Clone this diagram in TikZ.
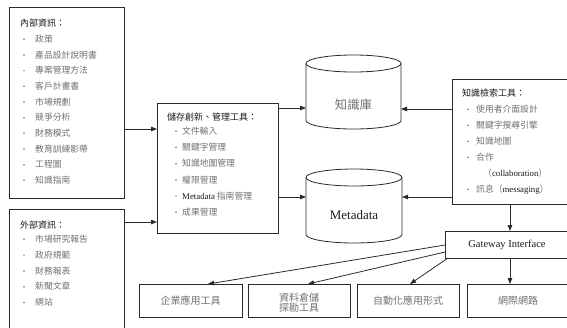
\documentclass[tikz,border=0pt]{standalone}
\usepackage{fontspec}
\setmainfont{Noto Sans CJK TC}
\newfontfamily\lat{Liberation Serif}
\usetikzlibrary{arrows.meta,calc}

\definecolor{lc}{HTML}{2A2A2A}
\definecolor{itemc}{HTML}{707070}
\definecolor{titc}{HTML}{1A1A1A}

% Latin words inside the Chinese item lists
\newcommand\latw[1]{{\lat\color{titc}#1}}

% bulleted list: name, bullet x, text x, first baseline, step, items
\newcommand\itemlist[6]{%
  \foreach \t [count=\i from 0] in {#6} {
    \pgfmathsetmacro\yy{#4+#5*\i}
    \fill[itemc] (#2,\yy-3.2) circle[radius=0.85pt];
    \node[itm, anchor=base west] (#1-\i) at (#3,\yy) {\t};
  }}

% drum outline around an invisible node: name, x radius, y radius
\newcommand\drumshape[3]{%
  \draw[cyl] ($(#1.north)+(0,#3)$) ellipse [x radius=#2pt, y radius=#3pt];
  \draw[cyl] ($(#1.north west)+(0,#3)$) -- ($(#1.south west)+(0,-#3)$)
    arc[start angle=180, end angle=360, x radius=#2pt, y radius=#3pt]
    -- ($(#1.north east)+(0,#3)$);
}

\begin{document}
\begin{tikzpicture}[x=1pt, y=-1pt,
  box/.style={draw=lc, line width=0.8pt, inner sep=0pt, outer sep=0pt},
  hold/.style={inner sep=0pt, outer sep=0pt},
  cyl/.style={draw=lc, line width=0.8pt},
  arr/.style={draw=lc, line width=0.8pt, -{Triangle[length=6pt,width=4.5pt]}},
  itm/.style={inner sep=0pt, text=itemc, font=\fontsize{8.8}{10}\selectfont},
  tit/.style={inner sep=0pt, text=titc, font=\fontsize{9}{10}\selectfont},
  lbl/.style={inner sep=0pt, text=itemc, font=\fontsize{10}{10}\selectfont, align=center}]

\useasboundingbox (0,0) rectangle (567,327);
\clip (0,0) rectangle (567,327);

% information sources
\node[box, minimum width=115pt, minimum height=191pt] (inner) at (66.5,102.5) {};
\node[box, minimum width=115pt, minimum height=140pt] (outer) at (66.5,279) {};

% management tools
\node[box, minimum width=121pt, minimum height=130pt] (store) at (217.5,168) {};

% repositories
\node[hold, minimum width=95pt, minimum height=74pt] (kb) at (353.5,92) {};
\node[hold, minimum width=96pt, minimum height=74pt] (md) at (354,206) {};
\drumshape{kb}{47.5}{8.5}
\drumshape{md}{48}{8.5}
\node[inner sep=0pt, text=itemc, font=\fontsize{12.4}{13}\selectfont] (kbt) at (353.5,105) {知識庫};
\node[inner sep=0pt, text=titc, font=\lat\fontsize{13}{14}\selectfont] (mdt) at (354,215) {Metadata};

% search tools and gateway
\node[box, minimum width=125pt, minimum height=125pt] (search) at (514.5,141.5) {};
\node[box, minimum width=132pt, minimum height=27pt] (gw) at (511,244.5) {};
\node[inner sep=0pt, text=titc, font=\lat\fontsize{10.5}{12}\selectfont] (gwt) at (507,245) {Gateway Interface};

% application targets
\node[box, minimum width=103pt, minimum height=33pt] (b1) at (190.5,300.5) {};
\node[box, minimum width=102pt, minimum height=33pt] (b2) at (299,300.5) {};
\node[box, minimum width=102pt, minimum height=33pt] (b3) at (408,300.5) {};
\node[box, minimum width=108pt, minimum height=33pt] (b4) at (521,300.5) {};
\node[lbl] (b1t) at (190.5,301) {企業應用工具};
\node[lbl] (b2t) at (299,303) {資料倉儲\\探勘工具};
\node[lbl] (b3t) at (408,301) {自動化應用形式};
\node[lbl] (b4t) at (518,301) {網際網路};

% lists
\node[tit, anchor=base west] (innert) at (20,26.5) {內部資訊：};
\itemlist{in}{24}{35}{42.5}{15.67}{政策,產品設計說明書,專案管理方法,客戶計畫書,市場規劃,競爭分析,財務模式,教育訓練影帶,工程圖,知識指南}

\node[tit, anchor=base west] (outert) at (20,228.5) {外部資訊：};
\itemlist{out}{24}{35}{242.5}{15.8}{市場研究報告,政府規範,財務報表,新聞文章,網站}

\node[tit, anchor=base west] (storet) at (167,120.5) {儲存創新、管理工具：};
\itemlist{st}{176}{182}{134.5}{16.2}{文件輸入,關鍵字管理,知識地圖管理,權限管理,{\latw{Metadata} 指南管理},成果管理}

\node[tit, anchor=base west] (searcht) at (462,96.5) {知識檢索工具：};
\itemlist{se}{468}{476}{112.5}{16}{使用者介面設計,關鍵字搜尋引擎,知識地圖,合作}
\node[itm, anchor=base west] (se-4) at (483,176.5) {（\latw{collaboration}）};
\fill[itemc] (468,189.3) circle[radius=0.85pt];
\node[itm, anchor=base west] (se-5) at (476,192.5) {訊息（\latw{messaging}）};

% connectors
\draw[arr] (inner.east |- 0,129) -- (store.west |- 0,129);
\draw[arr] (outer.east |- 0,222) -- (store.west |- 0,222);
\draw[arr] (store.east |- 0,108) -- (kb.west |- 0,108);
\draw[arr] (store.east |- 0,197) -- (md.west |- 0,197);
\draw[arr] (search.west |- 0,109) -- (kb.east |- 0,109);
\draw[arr] (search.west |- 0,197) -- (md.east |- 0,197);
\draw[arr] (search.south -| 510,0) -- (gw.north -| 510,0);
\draw[arr] (gw.south -| 510,0) -- (b4.north -| 510,0);
\draw[arr] (gw.west |- 0,245) -- ($(b1.north)+(17.5,0)$);
\draw[arr] (gw.west |- 0,252) -- ($(b2.north)+(9,0)$);
\draw[arr] ($(gw.south west)+(3,0)$) -- ($(b3.north)+(2,0)$);
\end{tikzpicture}
\end{document}
